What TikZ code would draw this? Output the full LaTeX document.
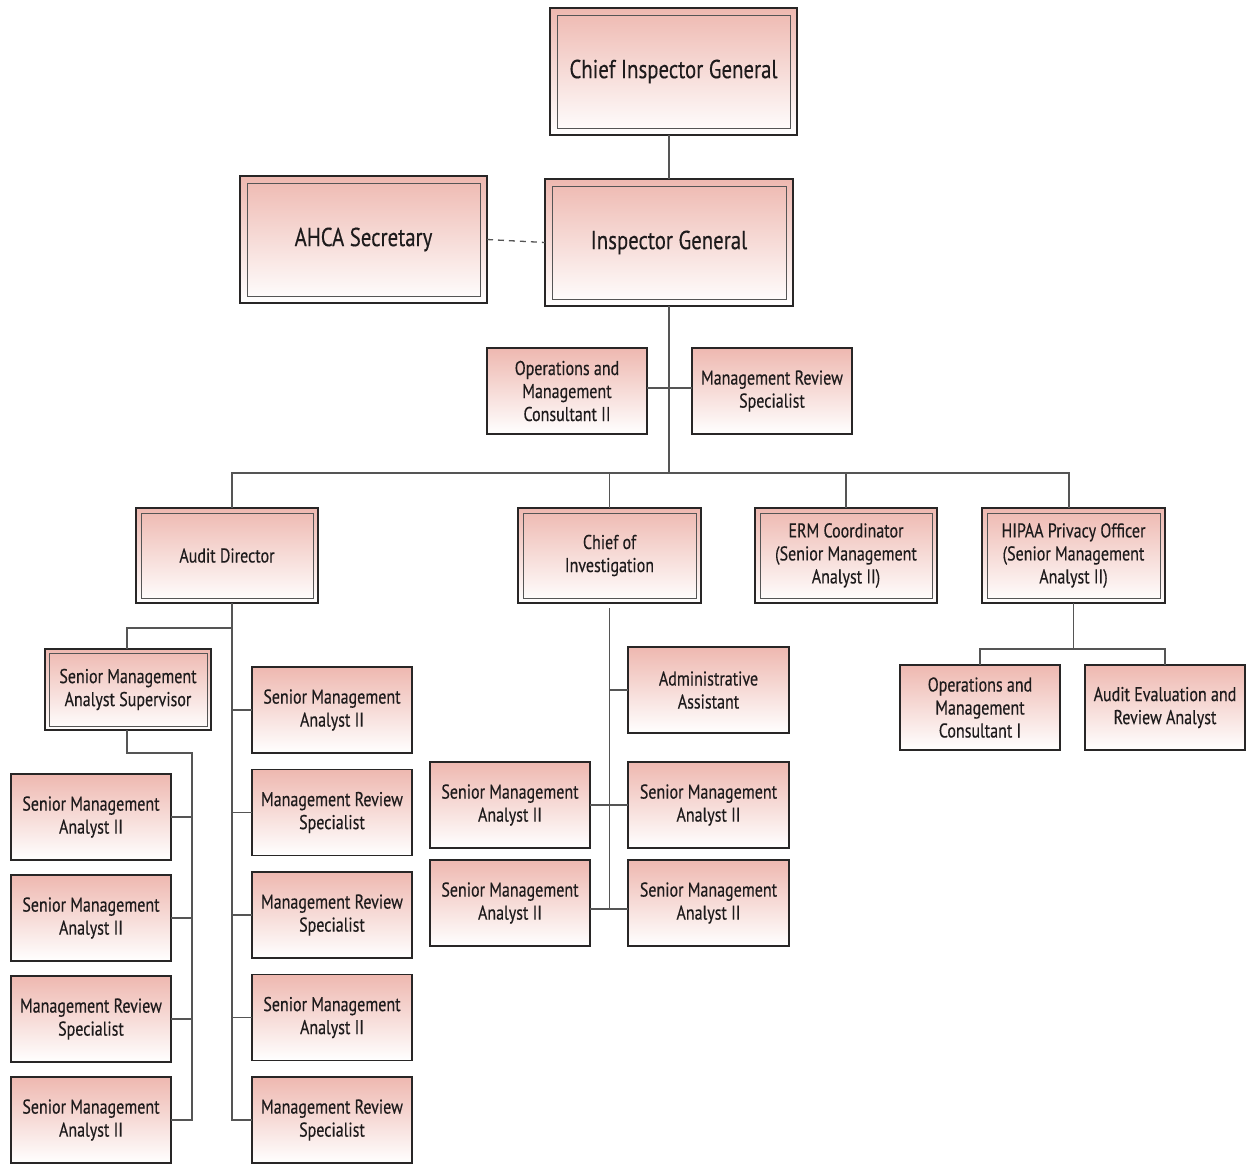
\documentclass[tikz,border=0pt]{standalone}
\usepackage{fontspec}
\setmainfont[FakeStretch=0.80, BoldFont=PT Sans, BoldFeatures={FakeStretch=0.80,FakeBold=0.3}]{PT Sans}
\usetikzlibrary{calc}
\definecolor{pinktop}{RGB}{238,184,176}
\definecolor{edge}{RGB}{40,38,38}
\definecolor{wire}{RGB}{85,85,85}
\definecolor{ink}{RGB}{30,27,28}
\tikzset{
  base/.style={top color=pinktop, bottom color=white, draw=edge, inner sep=0pt, outer sep=0pt,
    text=ink, align=center},
  plainbox/.style={base, line width=1.4pt, minimum width=160pt, minimum height=86pt, font=\fontsize{20}{23}\selectfont\bfseries},
  dbl/.style={base, line width=2pt,
    path picture={\draw[line width=1pt, draw=wire]
      ([shift={(#1,-#1)}]path picture bounding box.north west) rectangle
      ([shift={(-#1,#1)}]path picture bounding box.south east);}},
  bigbox/.style={dbl=7pt, line width=2.4pt, minimum width=247pt, minimum height=127pt, font=\fontsize{26}{30}\selectfont\bfseries},
  midbox/.style={dbl=5pt, minimum width=182pt, minimum height=95pt, font=\fontsize{20}{23}\selectfont\bfseries},
  wireline/.style={draw=wire, line width=1.3pt},
}
\begin{document}
\begin{tikzpicture}[x=1pt,y=-1pt]
\useasboundingbox (0,0) rectangle (1253,1163);
% top
\node[bigbox] (cig) at (673.5,71.5) {Chief Inspector General};
\node[bigbox] (ahca) at (363.5,239.5) {AHCA Secretary};
\node[bigbox, minimum width=248pt] (ig) at (669,242.5) {Inspector General};
\node[plainbox] (omc2) at (567,391) {Operations and\\Management\\Consultant II};
\node[plainbox] (mrs0) at (772,391) {Management Review\\Specialist};
% second level
\node[midbox] (ad) at (227,555.5) {Audit Director};
\node[midbox, minimum width=183pt] (coi) at (609.5,555.5) {Chief of\\Investigation};
\node[midbox] (erm) at (846,555.5) {ERM Coordinator\\(Senior Management\\Analyst II)};
\node[midbox, minimum width=183pt] (hipaa) at (1073.5,555.5) {HIPAA Privacy Officer\\(Senior Management\\Analyst II)};
% audit branch
\node[midbox, dbl=4pt, minimum width=166pt, minimum height=81pt] (sup) at (128,689.5) {Senior Management\\Analyst Supervisor};
\node[plainbox] (l1) at (91,817) {Senior Management\\Analyst II};
\node[plainbox] (l2) at (91,918) {Senior Management\\Analyst II};
\node[plainbox] (l3) at (91,1019) {Management Review\\Specialist};
\node[plainbox] (l4) at (91,1120) {Senior Management\\Analyst II};
\node[plainbox] (r1) at (332,710) {Senior Management\\Analyst II};
\node[plainbox] (r2) at (332,812.5) {Management Review\\Specialist};
\node[plainbox] (r3) at (332,915) {Management Review\\Specialist};
\node[plainbox] (r4) at (332,1017.5) {Senior Management\\Analyst II};
\node[plainbox] (r5) at (332,1120) {Management Review\\Specialist};
% investigation branch
\node[plainbox, minimum width=161pt] (aa) at (708.5,690) {Administrative\\Assistant};
\node[plainbox] (s1l) at (510,805) {Senior Management\\Analyst II};
\node[plainbox, minimum width=161pt] (s1r) at (708.5,805) {Senior Management\\Analyst II};
\node[plainbox] (s2l) at (510,903) {Senior Management\\Analyst II};
\node[plainbox, minimum width=161pt] (s2r) at (708.5,903) {Senior Management\\Analyst II};
% hipaa branch
\node[plainbox, minimum height=85pt] (omc1) at (980,707.5) {Operations and\\Management\\Consultant I};
\node[plainbox, minimum height=85pt] (aera) at (1165,707.5) {Audit Evaluation and\\Review Analyst};
% connectors
\draw[wireline] (ig.north |- cig.south) -- (ig.north);
\draw[wireline, dashed, dash pattern=on 6pt off 5pt] (ahca.east) -- (ig.west);
\draw[wireline] (ig.south) -- ([yshift=35pt]coi.north -| ig.south);
\draw[wireline] ([yshift=3pt]omc2.east) -- ([yshift=3pt]mrs0.west);
\draw[wireline] ([xshift=5pt]ad.north) -- ([xshift=5pt,yshift=35pt]ad.north) -- ([xshift=-4.5pt,yshift=35pt]hipaa.north) -- ([xshift=-4.5pt]hipaa.north);
\draw[wireline] (coi.north) -- ++(0,-35);
\draw[wireline] (erm.north) -- ++(0,-35);
% audit director trunk
\draw[wireline] ([xshift=5pt]ad.south) -- ([xshift=5pt]ad.south |- r5.west) -- (r5.west);
\foreach \n in {r1,r2,r3,r4} \draw[wireline] (\n.west) -- ++(-20,0);
\draw[wireline] ([xshift=5pt,yshift=-25pt]ad.south) -- ([xshift=-1pt,yshift=-25pt]ad.south -| sup.north) -- ([xshift=-1pt]sup.north);
\draw[wireline] ([xshift=-1pt]sup.south) -- ++(0,23) -| ([xshift=21pt]l4.east) -- (l4.east);
\foreach \n in {l1,l2,l3} \draw[wireline] (\n.east) -- ++(21,0);
% investigation trunk
\draw[wireline] ([yshift=-5pt]coi.south) -- ([yshift=-6pt]s2l.east -| coi.south);
\draw[wireline] (aa.west) -- (aa.west -| coi.south);
\draw[wireline] (s1l.east) -- (s1r.west);
\draw[wireline] ([yshift=-6pt]s2l.east) -- ([yshift=-6pt]s2r.west);
% hipaa
\draw[wireline] (hipaa.south) -- ([yshift=16pt]omc1.north -| hipaa.south);
\draw[wireline] (omc1.north) -- ++(0,-16) -| (aera.north);
\end{tikzpicture}
\end{document}
